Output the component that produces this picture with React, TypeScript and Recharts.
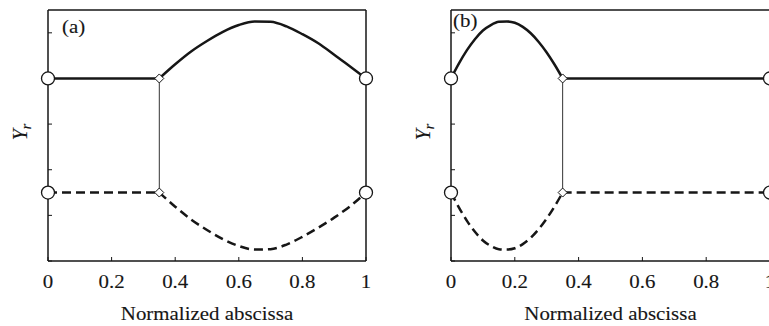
import React from "react";
import { ComposedChart, Line, Scatter, XAxis, YAxis } from "recharts";

// shared levels and junction of the two segments
const junctionX = 0.35;
const upperLevel = 4;
const lowerLevel = 1.5;

// panel (a): curved part sits to the right of the junction
const arcXA = [0.35, 0.4, 0.45, 0.5, 0.55, 0.6, 0.65, 0.7, 0.75, 0.8, 0.85, 0.9, 0.95, 1];
const arcUpperA = [4.0, 4.31, 4.59, 4.82, 5.02, 5.17, 5.25, 5.24, 5.14, 4.97, 4.77, 4.52, 4.26, 4.0];
const arcLowerA = [1.5, 1.19, 0.91, 0.68, 0.48, 0.33, 0.25, 0.26, 0.36, 0.53, 0.73, 0.95, 1.2, 1.5];

// panel (b): curved part sits to the left of the junction
const arcXB = [0, 0.025, 0.05, 0.075, 0.1, 0.125, 0.15, 0.175, 0.2, 0.225, 0.25, 0.275, 0.3, 0.325, 0.35];
const arcUpperB = [4.0, 4.33, 4.62, 4.86, 5.05, 5.17, 5.24, 5.25, 5.22, 5.13, 4.99, 4.8, 4.57, 4.3, 4.0];
const arcLowerB = [1.5, 1.17, 0.88, 0.64, 0.45, 0.33, 0.26, 0.25, 0.28, 0.37, 0.51, 0.7, 0.93, 1.2, 1.5];

const xTicks = [0, 0.2, 0.4, 0.6, 0.8, 1];
const yTicks = [0, 1, 2, 3, 4, 5];
const yDomain: [number, number] = [0, 5.5];

const SERIF = '"Liberation Serif", "Times New Roman", serif';
const STRETCH = 1.1;
const FONT = 19;
const INK = "#161616";
const TICK = 4;

type Pt = { x: number; y: number };
const zip = (xs: number[], ys: number[]): Pt[] => xs.map((x, i) => ({ x, y: ys[i] }));

// serif text, widened a little horizontally
const textStyle = {
  fontFamily: SERIF,
  fill: INK,
  stroke: INK,
  strokeWidth: 0.12,
};

const BottomTick = (props: any) => {
  const { x, y, payload } = props;
  return (
    <g>
      <line x1={x} y1={y} x2={x} y2={y - TICK} stroke={INK} strokeWidth={1} />
      <text
        transform={`translate(${x},${y + 27}) scale(${STRETCH},1)`}
        textAnchor="middle"
        fontSize={FONT}
        {...textStyle}
      >
        {String(payload.value)}
      </text>
    </g>
  );
};

const TopTick = (props: any) => (
  <line x1={props.x} y1={props.y} x2={props.x} y2={props.y + TICK} stroke={INK} strokeWidth={1} />
);

// the ticks at the upper level sit underneath the end circles
const LeftTick = (props: any) =>
  props.payload?.value === upperLevel ? <g /> : (
    <line x1={props.x} y1={props.y} x2={props.x + TICK} y2={props.y} stroke={INK} strokeWidth={1} />
  );
const RightTick = (props: any) =>
  props.payload?.value === upperLevel ? <g /> : (
    <line x1={props.x} y1={props.y} x2={props.x - TICK} y2={props.y} stroke={INK} strokeWidth={1} />
  );

const Circle = (props: any) => (
  <circle cx={props.cx} cy={props.cy} r={6.5} fill="#fff" stroke={INK} strokeWidth={1.3} />
);
const Diamond = (props: any) => {
  const { cx, cy } = props;
  const h = 4.5;
  return (
    <polygon
      points={`${cx},${cy - h} ${cx + h},${cy} ${cx},${cy + h} ${cx - h},${cy}`}
      fill="#fff"
      stroke={INK}
      strokeWidth={1}
    />
  );
};

type PanelProps = {
  tag: string;
  tagDx: number;
  tagDy: number;
  left: number;
  width: number;
  margin: { top: number; right: number; bottom: number; left: number };
  flatFrom: number;
  flatTo: number;
  arcX: number[];
  arcUpper: number[];
  arcLower: number[];
};

const Panel: React.FC<PanelProps> = (p) => {
  const upperFlat = zip([p.flatFrom, p.flatTo], [upperLevel, upperLevel]);
  const lowerFlat = zip([p.flatFrom, p.flatTo], [lowerLevel, lowerLevel]);
  const upperArc = zip(p.arcX, p.arcUpper);
  const lowerArc = zip(p.arcX, p.arcLower);
  const connector = zip([junctionX, junctionX], [upperLevel, lowerLevel]);
  const ends = zip([0, 0, 1, 1], [upperLevel, lowerLevel, upperLevel, lowerLevel]);
  const joints = zip([junctionX, junctionX], [upperLevel, lowerLevel]);

  const axisLine = { stroke: INK, strokeWidth: 1.5 };

  return (
    <div style={{ position: "absolute", left: p.left, top: 0 }}>
      <ComposedChart width={p.width} height={326} margin={p.margin}>
        <XAxis
          dataKey="x"
          type="number"
          domain={[0, 1]}
          ticks={xTicks}
          interval={0}
          height={1}
          tickSize={0}
          tickMargin={0}
          tickLine={false}
          axisLine={axisLine}
          tick={<BottomTick />}
          label={(lp: any) => {
            const vb = lp.viewBox || {};
            const cx = (vb.x ?? 0) + (vb.width ?? 0) / 2;
            const cy = (vb.y ?? 0) + 59;
            return (
              <text
                transform={`translate(${cx},${cy}) scale(${STRETCH},1)`}
                textAnchor="middle"
                fontSize={FONT}
                {...textStyle}
              >
                Normalized abscissa
              </text>
            );
          }}
        />
        <XAxis
          xAxisId="top"
          orientation="top"
          dataKey="x"
          type="number"
          domain={[0, 1]}
          ticks={xTicks}
          interval={0}
          height={1}
          tickSize={0}
          tickMargin={0}
          tickLine={false}
          axisLine={axisLine}
          tick={<TopTick />}
          label={(lp: any) => {
            const vb = lp.viewBox || {};
            const tx = (vb.x ?? 0) + p.tagDx;
            const ty = (vb.y ?? 0) + p.tagDy;
            return (
              <text
                transform={`translate(${tx},${ty}) scale(${STRETCH},1)`}
                fontSize={FONT}
                {...textStyle}
              >
                {p.tag}
              </text>
            );
          }}
        />
        <YAxis
          type="number"
          domain={yDomain}
          ticks={yTicks}
          interval={0}
          width={1}
          tickSize={0}
          tickMargin={0}
          tickLine={false}
          axisLine={axisLine}
          tick={<LeftTick />}
          label={(lp: any) => {
            const vb = lp.viewBox || {};
            const tx = (vb.x ?? 0) - 20;
            const ty = (vb.y ?? 0) + 122;
            return (
              <text
                transform={`translate(${tx},${ty}) scale(${STRETCH},1) rotate(-90)`}
                textAnchor="middle"
                fontSize={20}
                {...textStyle}
              >
                <tspan fontStyle="italic">Y</tspan>
                <tspan fontStyle="italic" fontSize={14} dy={4}>
                  r
                </tspan>
              </text>
            );
          }}
        />
        <YAxis
          yAxisId="right"
          orientation="right"
          type="number"
          domain={yDomain}
          ticks={yTicks}
          interval={0}
          width={1}
          tickSize={0}
          tickMargin={0}
          tickLine={false}
          axisLine={axisLine}
          tick={<RightTick />}
        />

        <Line data={connector} dataKey="y" type="linear" stroke="#333" strokeWidth={1} dot={false} isAnimationActive={false} />
        <Line data={upperFlat} dataKey="y" type="linear" stroke={INK} strokeWidth={2.5} dot={false} isAnimationActive={false} />
        <Line data={upperArc} dataKey="y" type="monotone" stroke={INK} strokeWidth={2.5} dot={false} isAnimationActive={false} />
        <Line data={lowerFlat} dataKey="y" type="linear" stroke={INK} strokeWidth={2.5} strokeDasharray="9 5" dot={false} isAnimationActive={false} />
        <Line data={lowerArc} dataKey="y" type="monotone" stroke={INK} strokeWidth={2.5} strokeDasharray="9 5" dot={false} isAnimationActive={false} />

        <Scatter data={joints} dataKey="y" shape={<Diamond />} isAnimationActive={false} />
        <Scatter data={ends} dataKey="y" shape={<Circle />} isAnimationActive={false} />
      </ComposedChart>
    </div>
  );
};

const App: React.FC = () => (
  <div
    style={{
      position: "absolute",
      left: 0,
      top: 0,
      width: 769,
      height: 326,
      overflow: "hidden",
      background: "#fff",
    }}
  >
    <Panel
      tag="(a)"
      tagDx={14}
      tagDy={24}
      left={0}
      width={390}
      margin={{ top: 9, right: 23, bottom: 64, left: 47 }}
      flatFrom={0}
      flatTo={junctionX}
      arcX={arcXA}
      arcUpper={arcUpperA}
      arcLower={arcLowerA}
    />
    <Panel
      tag="(b)"
      tagDx={2}
      tagDy={18}
      left={390}
      width={400}
      margin={{ top: 9, right: 19, bottom: 64, left: 60 }}
      flatFrom={junctionX}
      flatTo={1}
      arcX={arcXB}
      arcUpper={arcUpperB}
      arcLower={arcLowerB}
    />
  </div>
);

export default App;
